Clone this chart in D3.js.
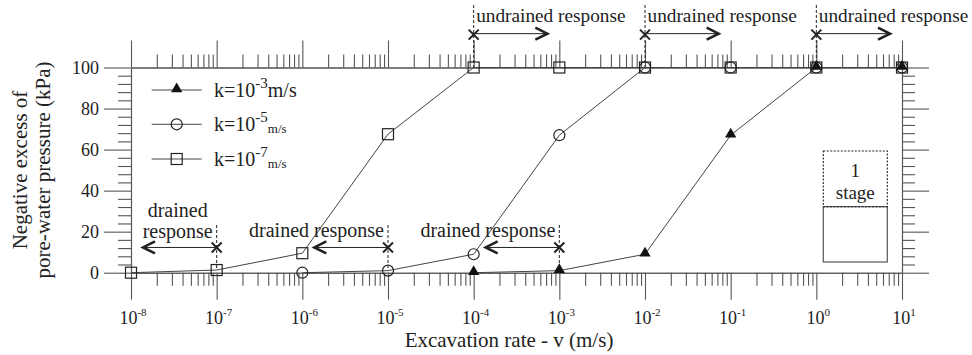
<!DOCTYPE html>
<html>
<head>
<meta charset="utf-8">
<script src="https://cdn.jsdelivr.net/npm/d3@7"></script>
<style>
  body { margin: 0; background: #fff; }
  svg { display: block; }
  text { font-family: "Liberation Serif", "DejaVu Serif", "Times New Roman", serif; }
</style>
</head>
<body>
<svg id="chart" width="972" height="355"></svg>
<script>
// data
const rates = [1e-8, 1e-7, 1e-6, 1e-5, 1e-4, 1e-3, 1e-2, 1e-1, 1e0, 1e1]
const exponents = [-8, -7, -6, -5, -4, -3, -2, -1, 0, 1]
const pressureK3 = [null, null, null, null, 0, 1, 9, 67, 100, 100]
const pressureK5 = [null, null, 0, 1, 9, 67, 100, 100, 100, 100]
const pressureK7 = [0, 1.3, 9.5, 67.5, 100, 100, 100, 100, 100, 100]
const yTicks = [0, 20, 40, 60, 80, 100]
const legendExp = ['-3', '-5', '-7']
const drainedAt = [1e-7, 1e-5, 1e-3]
const drainedText = [['drained', 'response'], ['drained response'], ['drained response']]
const undrainedAt = [1e-4, 1e-2, 1e0]

const svg = d3.select('#chart')
  .attr('font-family', '"Liberation Serif", "DejaVu Serif", serif')
const ink = '#222'
const axisGrey = '#555'

const x = d3.scaleLog().domain([1e-8, 10]).range([131, 902])
const y = d3.scaleLinear().domain([0, 100]).range([272.7, 67.5])

// minor ticks
const minorX = []
rates.slice(0, -1).forEach(r => { for (let m = 2; m <= 9; m++) minorX.push(r * m) })
const minorY = d3.range(0, 101, 4).filter(v => v % 20 !== 0)

function styleAxis (g) {
  g.attr('font-family', null)
  g.selectAll('path, line').attr('stroke', axisGrey).attr('stroke-width', 1.1)
  g.selectAll('text').remove()
}

// four axes, ticks all pointing outward
const axes = [
  { ax: d3.axisBottom, scale: x, pos: `translate(0,${y(0)})`, major: rates, minor: minorX },
  { ax: d3.axisTop, scale: x, pos: `translate(0,${y(100)})`, major: rates, minor: minorX },
  { ax: d3.axisLeft, scale: y, pos: `translate(${x(1e-8)},0)`, major: yTicks, minor: minorY },
  { ax: d3.axisRight, scale: y, pos: `translate(${x(10)},0)`, major: yTicks, minor: minorY }
]
axes.forEach(a => {
  svg.append('g').attr('transform', a.pos)
    .call(a.ax(a.scale).tickValues(a.minor).tickSize(13).tickSizeOuter(0).tickFormat(''))
    .call(styleAxis)
  svg.append('g').attr('transform', a.pos)
    .call(a.ax(a.scale).tickValues(a.major).tickSize(27).tickSizeOuter(0).tickFormat(''))
    .call(styleAxis)
})

// x tick labels 10^n
const xl = svg.append('g').selectAll('text').data(exponents).enter().append('text')
  .attr('x', (d, i) => x(rates[i]) + 2)
  .attr('y', 324)
  .attr('text-anchor', 'middle')
  .attr('font-size', 18)
  .attr('fill', ink)
xl.append('tspan').text('10')
xl.append('tspan').attr('dy', -8).attr('font-size', 11).text(d => d)

// y tick labels
svg.append('g').selectAll('text').data(yTicks).enter().append('text')
  .attr('x', 99)
  .attr('y', d => y(d) + 6)
  .attr('text-anchor', 'end')
  .attr('font-size', 18)
  .attr('fill', ink)
  .text(d => d)

// axis titles
svg.append('text')
  .attr('x', 509).attr('y', 347)
  .attr('text-anchor', 'middle')
  .attr('font-size', 21)
  .attr('fill', ink)
  .text('Excavation rate - v (m/s)')
const yt = svg.append('text')
  .attr('transform', `translate(0,170) rotate(-90)`)
  .attr('text-anchor', 'middle')
  .attr('font-size', 21)
  .attr('fill', ink)
yt.append('tspan').attr('x', 0).attr('y', 27).text('Negative excess of')
yt.append('tspan').attr('x', 0).attr('y', 50).text('pore-water pressure (kPa)')

// series
const series = [
  { values: pressureK7, shape: 'square' },
  { values: pressureK5, shape: 'circle' },
  { values: pressureK3, shape: 'triangle' }
]
const line = d3.line()
  .defined(d => d.p !== null)
  .x(d => x(d.v))
  .y(d => y(d.p))

function drawMarker (g, shape, cx, cy) {
  if (shape === 'square') {
    g.append('rect').attr('x', cx - 5.5).attr('y', cy - 5.5).attr('width', 11).attr('height', 11)
      .attr('fill', 'none').attr('stroke', ink).attr('stroke-width', 1.2)
  } else if (shape === 'circle') {
    g.append('circle').attr('cx', cx).attr('cy', cy).attr('r', 5.5)
      .attr('fill', 'none').attr('stroke', ink).attr('stroke-width', 1.2)
  } else {
    g.append('path')
      .attr('d', d3.symbol().type(d3.symbolTriangle).size(55)())
      .attr('transform', `translate(${cx},${cy - 1})`)
      .attr('fill', '#111')
  }
}

series.forEach(s => {
  const pts = rates.map((v, i) => ({ v: v, p: s.values[i] }))
  svg.append('path').datum(pts)
    .attr('d', line)
    .attr('fill', 'none')
    .attr('stroke', '#444')
    .attr('stroke-width', 1)
})
series.forEach(s => {
  const g = svg.append('g')
  rates.forEach((v, i) => {
    if (s.values[i] !== null) drawMarker(g, s.shape, x(v), y(s.values[i]))
  })
})

// legend
const legendY = [90, 124.3, 159]
const legendShapes = ['triangle', 'circle', 'square']
legendY.forEach((ly, i) => {
  const g = svg.append('g')
  g.append('line').attr('x1', 151.7).attr('x2', 201.7).attr('y1', ly).attr('y2', ly)
    .attr('stroke', '#444').attr('stroke-width', 1)
  drawMarker(g, legendShapes[i], 176.7, ly)
  const t = g.append('text').attr('x', 214).attr('y', ly + 7)
    .attr('font-size', 20).attr('fill', ink)
  t.append('tspan').text('k=10')
  t.append('tspan').attr('dy', -9).attr('font-size', 15).text(legendExp[i])
  if (i === 0) {
    t.append('tspan').attr('dy', 9).attr('font-size', 20).text('m/s')
  } else {
    t.append('tspan').attr('dy', 11).attr('font-size', 13).text('m/s')
  }
})

// annotation helpers
function xMark (cx, cy) {
  svg.append('path')
    .attr('d', `M${cx - 5},${cy - 5}L${cx + 5},${cy + 5}M${cx - 5},${cy + 5}L${cx + 5},${cy - 5}`)
    .attr('stroke', ink).attr('stroke-width', 2)
}
function arrow (x1, x2, ay) {
  svg.append('line').attr('x1', x1).attr('x2', x2).attr('y1', ay).attr('y2', ay)
    .attr('stroke', ink).attr('stroke-width', 1)
  const dir = x2 > x1 ? -1 : 1
  svg.append('path')
    .attr('d', `M${x2 + dir * 12},${ay - 6}L${x2},${ay}L${x2 + dir * 12},${ay + 6}`)
    .attr('fill', 'none').attr('stroke', ink).attr('stroke-width', 2.6)
    .attr('stroke-linejoin', 'miter')
}
function dashed (cx, y1, y2) {
  svg.append('line').attr('x1', cx).attr('x2', cx).attr('y1', y1).attr('y2', y2)
    .attr('stroke', ink).attr('stroke-width', 1).attr('stroke-dasharray', '3,2')
}

// drained response (arrow pointing to slower rates)
drainedAt.forEach((v, i) => {
  const cx = x(v)
  const ay = y(12.3)
  dashed(cx, 225, 269)
  arrow(cx, x(v / Math.pow(10, 0.86)), ay)
  xMark(cx, ay)
  const lines = drainedText[i]
  const t = svg.append('text').attr('font-size', 20).attr('fill', ink)
  if (lines.length === 2) {
    t.attr('text-anchor', 'middle')
    t.append('tspan').attr('x', cx - 39).attr('y', 217).text(lines[0])
    t.append('tspan').attr('x', cx - 39).attr('y', 237.5).text(lines[1])
  } else {
    t.attr('text-anchor', 'end').attr('x', cx - 4).attr('y', 236.5).text(lines[0])
  }
})

// undrained response (arrow pointing to faster rates)
undrainedAt.forEach(v => {
  const cx = x(v)
  const ay = y(116.5)
  dashed(cx, 5, y(100))
  arrow(cx, x(v * Math.pow(10, 0.86)), ay)
  xMark(cx, ay + 1)
  svg.append('text').attr('x', cx + 2.5).attr('y', 21.5)
    .attr('font-size', 19.3).attr('fill', ink)
    .text('undrained response')
})

// stage sketch
const stage = svg.append('g')
stage.append('rect').attr('x', 823.3).attr('y', 206.7).attr('width', 64).attr('height', 55.3)
  .attr('fill', 'none').attr('stroke', axisGrey).attr('stroke-width', 1.2)
stage.append('rect').attr('x', 823.3).attr('y', 151).attr('width', 64).attr('height', 55.7)
  .attr('fill', 'none').attr('stroke', ink).attr('stroke-width', 1.1).attr('stroke-dasharray', '2,1.5')
stage.append('text').attr('x', 855.3).attr('y', 177).attr('text-anchor', 'middle')
  .attr('font-size', 19).attr('fill', ink).text('1')
stage.append('text').attr('x', 855.3).attr('y', 199).attr('text-anchor', 'middle')
  .attr('font-size', 19).attr('fill', ink).text('stage')
</script>
</body>
</html>
